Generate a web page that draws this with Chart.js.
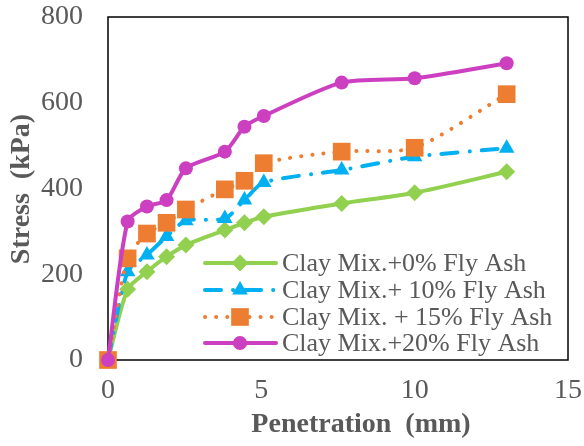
<!DOCTYPE html>
<html>
<head>
<meta charset="utf-8">
<script src="https://cdn.jsdelivr.net/npm/chart.js@4/dist/chart.umd.min.js"></script>
<style>
  html, body { margin: 0; padding: 0; background: #ffffff; }
  #wrap { width: 584px; height: 446px; position: relative; }
</style>
</head>
<body>
<div id="wrap"><canvas id="c" width="584" height="446"></canvas></div>
<script>
// ---- Data ----
const penetration = [0, 0.64, 1.27, 1.91, 2.54, 3.81, 4.45, 5.08, 7.62, 10, 13];
const flyAsh0  = [0, 165, 206, 241, 268, 303, 320, 334, 365, 390, 439];
const flyAsh10 = [0, 206, 245, 288, 325, 330, 373, 414, 443, 474, 494];
const flyAsh15 = [0, 237, 295, 320, 351, 398, 418, 459, 486, 495, 620];
const flyAsh20 = [0, 323, 358, 373, 447, 486, 544, 569, 647, 657, 692];
const seriesNames = [
  'Clay Mix.+0% Fly Ash',
  'Clay Mix.+ 10% Fly Ash',
  'Clay Mix. + 15% Fly Ash',
  'Clay Mix.+20% Fly Ash'
];
const xTicks = [0, 5, 10, 15];
const yTicks = [0, 200, 400, 600, 800];
const xTitle = 'Penetration  (mm)';
const yTitle = 'Stress  (kPa)';

const toXY = (ys) => penetration.map((x, i) => ({ x: x, y: ys[i] }));

const FONT = "'Liberation Serif', 'Times New Roman', serif";
const GREY = '#595959';

const styles = [
  { color: '#92D050', dash: [], cap: 'round', point: 'rectRot', r: 8.5, order: 3 },
  { color: '#00B0F0', dash: [16, 12, 0.1, 12], cap: 'round', point: 'triangle', r: 9, order: 2 },
  { color: '#ED7D31', dash: [0.1, 11], cap: 'round', point: 'rect', r: 12.5, order: 1 },
  { color: '#CC3FC0', dash: [], cap: 'round', point: 'circle', r: 7, order: 0 }
];
const allData = [flyAsh0, flyAsh10, flyAsh15, flyAsh20];

const datasets = allData.map((d, i) => ({
  label: seriesNames[i],
  data: toXY(d),
  borderColor: styles[i].color,
  backgroundColor: styles[i].color,
  borderWidth: 4,
  borderDash: styles[i].dash,
  borderCapStyle: styles[i].cap,
  borderJoinStyle: 'round',
  tension: 0.25,
  clip: false,
  pointStyle: styles[i].point,
  pointRadius: styles[i].r,
  pointBorderWidth: 0,
  pointBackgroundColor: styles[i].color,
  pointBorderColor: styles[i].color,
  order: styles[i].order
}));

const framePlugin = {
  id: 'frame',
  beforeDatasetsDraw(chart) {
    const ctx = chart.ctx;
    const a = chart.chartArea;
    ctx.save();
    ctx.strokeStyle = '#000000';
    ctx.lineWidth = 1.5;
    ctx.strokeRect(a.left, a.top, a.right - a.left, a.bottom - a.top);
    ctx.restore();
  },
  afterDraw(chart) {
    const ctx = chart.ctx;
    ctx.save();
    const rows = [263, 290, 317, 343];
    const x0 = 205, x1 = 276, mx = 240, tx = 282;
    ctx.font = '26px ' + FONT;
    ctx.textBaseline = 'middle';
    ctx.textAlign = 'left';
    chart.data.datasets.forEach((ds, i) => {
      const y = rows[i];
      ctx.save();
      ctx.strokeStyle = ds.borderColor;
      ctx.lineWidth = ds.borderWidth;
      ctx.lineCap = ds.borderCapStyle;
      ctx.setLineDash(ds.borderDash);
      ctx.beginPath();
      ctx.moveTo(x0, y);
      ctx.lineTo(x1, y);
      ctx.stroke();
      ctx.restore();
      ctx.save();
      ctx.fillStyle = ds.pointBackgroundColor;
      ctx.strokeStyle = ds.pointBorderColor;
      ctx.lineWidth = 0.01;
      Chart.helpers.drawPoint(ctx, { pointStyle: ds.pointStyle, radius: ds.pointRadius, borderWidth: 0, rotation: 0 }, mx, y);
      ctx.restore();
      ctx.fillStyle = GREY;
      ctx.fillText(ds.label, tx, y + 1);
    });

    ctx.fillStyle = GREY;
    ctx.font = 'bold 28px ' + FONT;
    ctx.textAlign = 'center';
    ctx.textBaseline = 'alphabetic';
    ctx.fillText(xTitle, 361, 432);
    ctx.save();
    ctx.translate(28.5, 189);
    ctx.rotate(-Math.PI / 2);
    ctx.fillText(yTitle, 0, 0);
    ctx.restore();
    ctx.restore();
  }
};

new Chart(document.getElementById('c'), {
  type: 'line',
  data: { datasets: datasets },
  options: {
    responsive: false,
    animation: false,
    devicePixelRatio: 1,
    layout: { padding: { left: 0, right: 16, top: 17, bottom: 0 } },
    plugins: {
      legend: { display: false },
      tooltip: { enabled: false },
      title: { display: false }
    },
    scales: {
      x: {
        type: 'linear',
        min: 0, max: 15,
        afterBuildTicks: (s) => { s.ticks = xTicks.map(v => ({ value: v })); },
        afterFit: (s) => { s.height = 86; s.paddingLeft = 0; s.paddingRight = 0; },
        grid: { display: false, drawTicks: false },
        border: { display: false },
        ticks: { padding: 14, color: GREY, font: { family: FONT, size: 28 }, maxRotation: 0 }
      },
      y: {
        type: 'linear',
        min: 0, max: 800,
        afterBuildTicks: (s) => { s.ticks = yTicks.map(v => ({ value: v })); },
        afterFit: (s) => { s.width = 108; s.paddingTop = 0; s.paddingBottom = 0; },
        grid: { display: false, drawTicks: false },
        border: { display: false },
        ticks: { padding: 25, color: GREY, font: { family: FONT, size: 28 } }
      }
    }
  },
  plugins: [framePlugin]
});
</script>
</body>
</html>
